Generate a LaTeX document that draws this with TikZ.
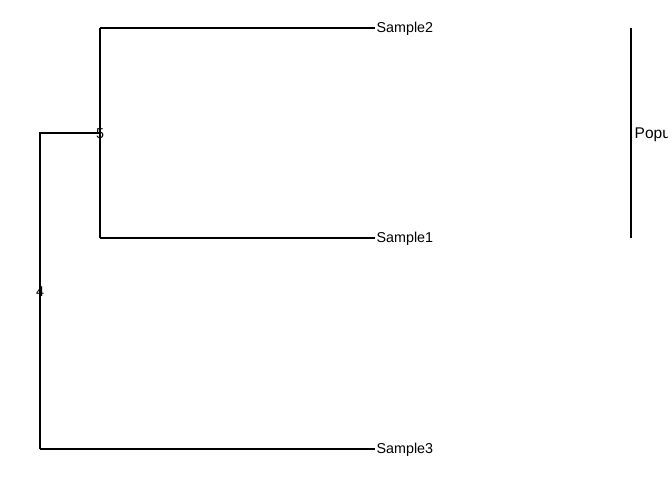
\documentclass[tikz,border=0pt]{standalone}
\usepackage{fontspec}
\setmainfont{Liberation Sans}
\begin{document}
\begin{tikzpicture}[x=1pt,y=-1pt,
  edge/.style={draw=black,line width=1.15pt},
  leaf/.style={anchor=west,inner sep=0pt,font=\fontsize{14.3}{16}\selectfont},
  inner/.style={inner sep=0pt,font=\fontsize{14.3}{16}\selectfont}]
\useasboundingbox (0,0) rectangle (672,480);
\fill[white] (0,0) rectangle (672,480);
\begin{scope}
\clip (0,0) rectangle (667,480);
% coordinates
\coordinate (r4t) at (40,133);
\coordinate (r4b) at (40,449);
\coordinate (r5t) at (100,28);
\coordinate (r5b) at (100,238);
\coordinate (r5m) at (100,133);
\coordinate (e2) at (375,28);
\coordinate (e1) at (375,238);
\coordinate (e3) at (375,449);
\coordinate (bt) at (631,28);
\coordinate (bb) at (631,238);
% edges
\draw[edge] (r4b) -- (r4t) -- (r5m);
\draw[edge] (r5t) -- (r5b);
\draw[edge] (r5t) -- (e2);
\draw[edge] (r5b) -- (e1);
\draw[edge] (r4b) -- (e3);
\draw[edge] (bt) -- (bb);
% labels
\node[leaf] (s2) at (376.5,29) {Sample2};
\node[leaf] (s1) at (376.5,239) {Sample1};
\node[leaf] (s3) at (376.5,450) {Sample3};
\node[inner] (n5) at (100,134) {5};
\node[inner] (n4) at (40,292) {4};
\node[leaf,font=\fontsize{15.5}{17}\selectfont] (pop) at (634.5,134) {Population};
\end{scope}
\end{tikzpicture}
\end{document}
